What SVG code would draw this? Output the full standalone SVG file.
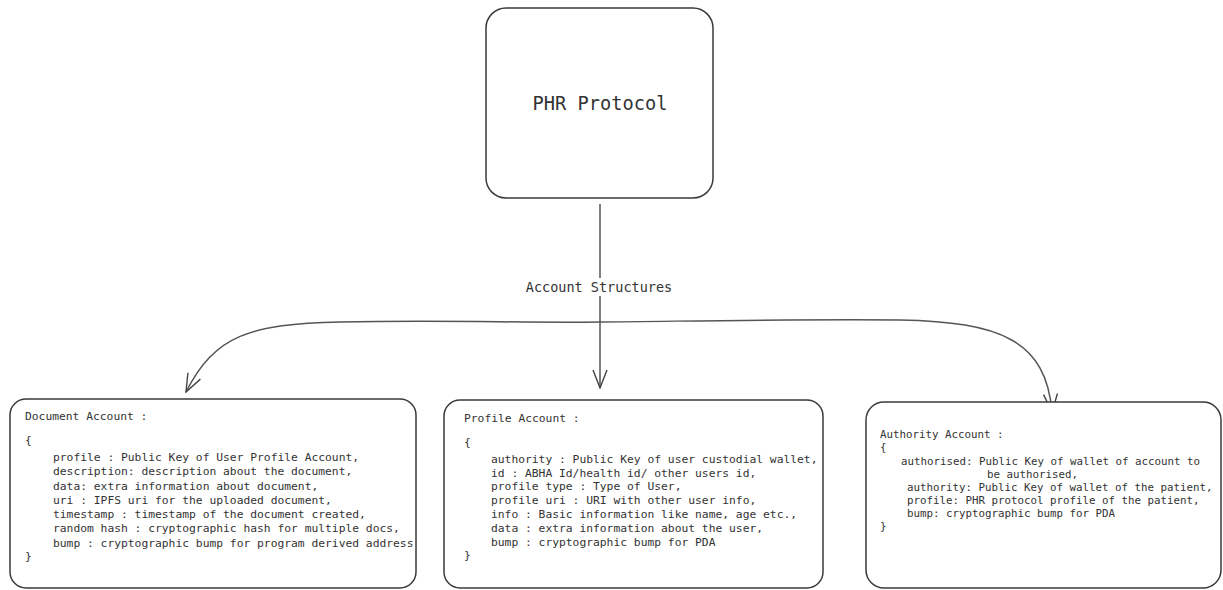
<svg xmlns="http://www.w3.org/2000/svg" width="1223" height="590" viewBox="0 0 1223 590">
<style>
.box{fill:#fff;stroke:#3a3a3a;stroke-width:1.5}
.t{font-family:"DejaVu Sans Mono","Liberation Mono",monospace;fill:#333}
.s{font-size:11.3px}
.a{font-size:10.8px}
.conn{fill:none;stroke:#555;stroke-width:1.5}
</style>
<defs>
<marker id="arr" viewBox="0 0 20 20" refX="19" refY="10" markerWidth="20" markerHeight="20" markerUnits="userSpaceOnUse" orient="auto-start-reverse">
<path d="M1 3 L19 10 L1 17" fill="none" stroke="#444" stroke-width="1.4"/>
</marker>
</defs>
<rect width="1223" height="590" fill="#fff"/>
<g id="connectors">
<path class="conn" d="M600 204 L600 278"/>
<path class="conn" d="M600 296 L600 388" marker-end="url(#arr)"/>
<path class="conn" d="M186 392 C215 335 250 324 340 322 C450 320 520 323 600 322 C700 321 800 319 900 320 C1000 322 1046 340 1052 412" marker-start="url(#arr)" marker-end="url(#arr)"/>
<text class="t" x="599" y="292" font-size="13.5" text-anchor="middle">Account Structures</text>
</g>
<g id="phr">
<rect class="box" x="486" y="8" width="227" height="190" rx="20"/>
<text class="t" x="600" y="110" font-size="18.7" text-anchor="middle">PHR Protocol</text>
</g>
<g id="document">
<rect class="box" x="10" y="399" width="406" height="189" rx="16"/>
<g class="t s">
<text x="25" y="420">Document Account :</text>
<text x="25" y="444">{</text>
<text x="53" y="461">profile : Public Key of User Profile Account,</text>
<text x="53" y="475">description: description about the document,</text>
<text x="53" y="490">data: extra information about document,</text>
<text x="53" y="504">uri : IPFS uri for the uploaded document,</text>
<text x="53" y="518">timestamp : timestamp of the document created,</text>
<text x="53" y="532">random hash : cryptographic hash for multiple docs,</text>
<text x="53" y="547">bump : cryptographic bump for program derived address</text>
<text x="25" y="560">}</text>
</g>
</g>
<g id="profile">
<rect class="box" x="444" y="400" width="379" height="188" rx="16"/>
<g class="t s">
<text x="464" y="422">Profile Account :</text>
<text x="464" y="446">{</text>
<text x="491" y="463">authority : Public Key of user custodial wallet,</text>
<text x="491" y="477">id : ABHA Id/health id/ other users id,</text>
<text x="491" y="490">profile type : Type of User,</text>
<text x="491" y="504">profile uri : URI with other user info,</text>
<text x="491" y="518">info : Basic information like name, age etc.,</text>
<text x="491" y="532">data : extra information about the user,</text>
<text x="491" y="546">bump : cryptographic bump for PDA</text>
<text x="464" y="559">}</text>
</g>
</g>
<g id="authority">
<rect class="box" x="866" y="402" width="355" height="186" rx="18"/>
<g class="t a">
<text x="880" y="438">Authority Account :</text>
<text x="880" y="451">{</text>
<text x="901" y="465">authorised: Public Key of wallet of account to</text>
<text x="987" y="478">be authorised,</text>
<text x="907" y="491">authority: Public Key of wallet of the patient,</text>
<text x="907" y="504">profile: PHR protocol profile of the patient,</text>
<text x="907" y="517">bump: cryptographic bump for PDA</text>
<text x="880" y="530">}</text>
</g>
</g>
</svg>
